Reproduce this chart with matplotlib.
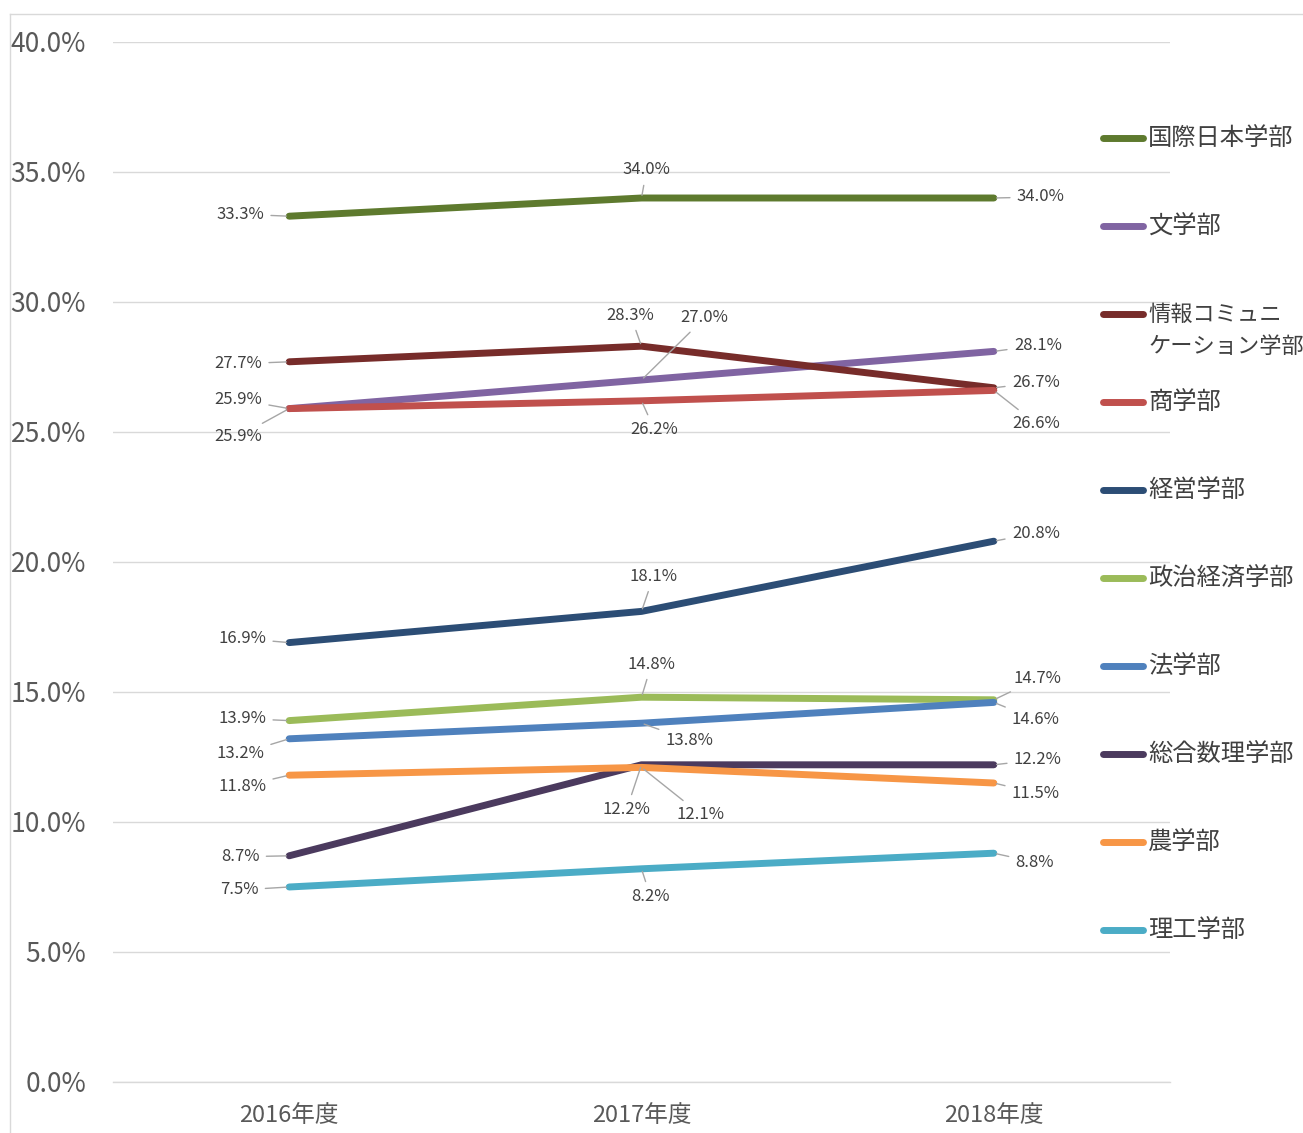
import matplotlib
matplotlib.use("Agg")
import matplotlib.pyplot as plt
from matplotlib.lines import Line2D
from matplotlib.ticker import PercentFormatter

plt.rcParams['font.family'] = ['Noto Sans CJK JP', 'DejaVu Sans']

years = ["2016年度", "2017年度", "2018年度"]
series_names = ["国際日本学部", "文学部", "情報コミュニ\nケーション学部", "商学部", "経営学部",
                "政治経済学部", "法学部", "総合数理学部", "農学部", "理工学部"]
kokusai = [33.3, 34.0, 34.0]
bungaku = [25.9, 27.0, 28.1]
joho = [27.7, 28.3, 26.7]
shogaku = [25.9, 26.2, 26.6]
keiei = [16.9, 18.1, 20.8]
seikei = [13.9, 14.8, 14.7]
hogaku = [13.2, 13.8, 14.6]
sogo = [8.7, 12.2, 12.2]
nogaku = [11.8, 12.1, 11.5]
riko = [7.5, 8.2, 8.8]
values = [kokusai, bungaku, joho, shogaku, keiei, seikei, hogaku, sogo, nogaku, riko]

colors = ["#5E7A2E", "#8064A2", "#772C2A", "#C0504D", "#2C4D75",
          "#9BBB59", "#4F81BD", "#4B3A5E", "#F79646", "#4BACC6"]

# label offsets in pixels (dx, dy) relative to the data point, dy positive = up
label_offsets = [
    [(-49, 2), (5, 28), (47, 1)],
    [(-51, 9), (63, 62), (44, 6)],
    [(-51, -2), (-11, 31), (42, 5)],
    [(-51, -28), (13, -29), (42, -33)],
    [(-47, 4), (12, 35), (42, 8)],
    [(-47, 2), (10, 33), (44, 21)],
    [(-49, -15), (48, -17), (42, -17)],
    [(-49, -1), (-15, -45), (44, 5)],
    [(-47, -11), (59, -47), (42, -10)],
    [(-50, -3), (9, -28), (41, -9)],
]

W, H = 1303, 1133
fig = plt.figure(figsize=(W / 100, H / 100), dpi=100)
ax = fig.add_axes([113 / W, 1 - 1082 / H, 1057 / W, 1040 / H])

x = list(range(len(years)))
for vals, col, offs in zip(values, colors, label_offsets):
    fr = [v / 100 for v in vals]
    ax.plot(x, fr, color=col, lw=5, solid_capstyle='round', solid_joinstyle='round', zorder=3)
    for xi, v, (dx, dy) in zip(x, vals, offs):
        ax.annotate(f"{v:.1f}%", xy=(xi, v / 100), xytext=(dx, dy), textcoords='offset pixels',
                    ha='center', va='center', fontsize=12, color='#404040', zorder=5,
                    arrowprops=dict(arrowstyle='-', color='#A6A6A6', lw=1, shrinkA=3, shrinkB=2))

ax.set_xlim(-0.5, 2.5)
ax.set_ylim(0, 0.40)
ax.set_yticks([i * 0.05 for i in range(9)])
ax.yaxis.set_major_formatter(PercentFormatter(1.0, decimals=1))
ax.set_xticks(x)
ax.set_xticklabels(years)
ax.tick_params(axis='y', length=0, pad=19.5, labelsize=19, labelcolor='#595959')
ax.tick_params(axis='x', length=0, pad=16, labelsize=17, labelcolor='#595959')
ax.grid(axis='y', color='#D9D9D9', lw=1)
ax.axhline(0, color='#D9D9D9', lw=1, clip_on=False, zorder=0)
ax.set_axisbelow(True)
for s in ax.spines.values():
    s.set_visible(False)

# legend
ly = [138, 226, 314, 402, 490, 578, 666, 754, 842, 930]
for name, col, yy in zip(series_names, colors, ly):
    fy = 1 - yy / H
    fig.add_artist(Line2D([1103 / W, 1143 / W], [fy, fy], transform=fig.transFigure,
                          color=col, lw=5, solid_capstyle='round'))
    lines = name.split("\n")
    fs = 17.5 if len(lines) == 1 else 16
    for k, ln in enumerate(lines):
        fig.text(1148 / W, 1 - (yy + 32 * k) / H, ln, ha='left', va='center',
                 fontsize=fs, color='#404040')

# outer frame
fig.add_artist(Line2D([10 / W, 10 / W], [0, 1 - 14 / H], transform=fig.transFigure, color='#D9D9D9', lw=1))
fig.add_artist(Line2D([10 / W, 1], [1 - 14 / H, 1 - 14 / H], transform=fig.transFigure, color='#D9D9D9', lw=1))

fig.savefig("out.png", dpi=100)
